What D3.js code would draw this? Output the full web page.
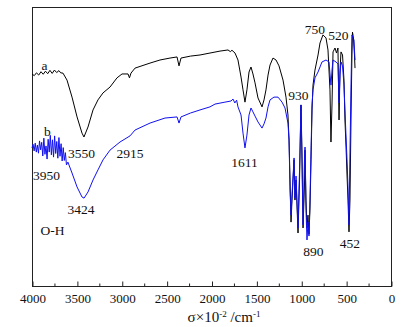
<!DOCTYPE html>
<html>
<head>
<meta charset="utf-8">
<script src="https://cdn.jsdelivr.net/npm/d3@7"></script>
<style>
  body { margin: 0; background: #fff; }
  svg text { font-family: "Liberation Serif", "Times New Roman", serif; fill: #111; }
  .axis path, .axis line { stroke: #222; }
</style>
</head>
<body>
<div id="chart"></div>
<script>
// Spectrum a (black): wavenumber (cm-1) and transmittance (a.u.)
const waveA = [4000, 3975, 3950, 3925, 3900, 3875, 3850, 3825, 3800, 3775, 3750, 3725, 3700, 3680, 3655,
  3610, 3554, 3498, 3443, 3421, 3376, 3320, 3265, 3209, 3131, 3053, 2997, 2930, 2914, 2897, 2852,
  2685, 2574, 2462, 2384, 2362, 2340, 2234, 2128, 2017, 1905, 1816, 1790, 1772, 1738, 1705, 1671,
  1649, 1627, 1605, 1582, 1560, 1538, 1515, 1482, 1437, 1415, 1393, 1370, 1348, 1315, 1281, 1248,
  1203, 1170, 1148, 1136, 1125, 1114, 1103, 1080, 1070, 1058, 1036, 1019, 1003, 992, 980, 964, 958,
  947, 936, 925, 914, 903, 891, 880, 869, 847, 813, 791, 758, 724, 702, 680, 669, 657, 646, 624, 607,
  591, 579, 568, 557, 540, 524, 513, 501, 490, 479, 468, 457, 446, 435, 429, 418, 407, 401];
const transA = [76.0, 75.4, 76.4, 75.6, 76.8, 75.9, 77.0, 76.1, 77.3, 76.2, 77.4, 76.5, 77.2, 76.4, 76.3,
  73.8, 67.7, 60.6, 54.8, 53.4, 57.0, 63.1, 66.7, 69.2, 71.3, 74.6, 76.0, 76.0, 74.6, 76.3, 78.1,
  79.9, 81.0, 81.7, 82.1, 78.9, 81.7, 82.4, 82.8, 83.5, 84.2, 84.6, 84.0, 84.5, 83.5, 81.0, 74.9,
  70.3, 65.9, 70.3, 76.7, 78.5, 76.0, 72.8, 67.4, 64.2, 66.7, 70.3, 75.6, 79.2, 81.7, 81.0, 78.9,
  73.8, 67.7, 61.3, 52.3, 38.0, 22.9, 30.8, 45.2, 30.8, 38.0, 19.0, 38.0, 64.9, 48.7, 20.8, 36.2, 48.7,
  30.8, 20.8, 25.4, 18.6, 27.2, 45.2, 63.1, 72.0, 77.4, 82.8, 87.1, 90.0, 88.9, 84.6, 70.3, 51.6, 65.6, 83.9, 85.3, 83.5,
  85.3, 59.5, 77.4, 83.9, 82.8, 73.8, 59.5, 49.8, 39.8, 30.8, 19.4, 30.8, 59.5, 83.5, 91.0, 88.9, 82.8, 78.1];

// Spectrum b (blue)
const waveB = [4000, 3988, 3976, 3964, 3952, 3940, 3928, 3916, 3904, 3892, 3880, 3868, 3856, 3844, 3832,
  3820, 3808, 3796, 3784, 3772, 3760, 3748, 3736, 3724, 3712, 3700, 3688, 3676, 3664, 3652, 3640, 3628,
  3616, 3600, 3554, 3498, 3443, 3420, 3376, 3320, 3265, 3209, 3131, 3020, 2908, 2852, 2685, 2518,
  2384, 2362, 2340, 2234, 2128, 2017, 1961, 1850, 1783, 1760, 1740, 1720, 1705, 1671, 1649, 1627,
  1605, 1582, 1560, 1538, 1515, 1482, 1437, 1415, 1393, 1370, 1348, 1304, 1259, 1214, 1181, 1148,
  1136, 1125, 1114, 1103, 1080, 1070, 1058, 1036, 1019, 1003, 992, 980, 964, 958, 947, 936, 925, 914,
  903, 891, 880, 869, 847, 813, 769, 724, 691, 669, 657, 646, 613, 591, 579, 568, 557, 540, 524, 513,
  501, 490, 479, 468, 457, 446, 435, 424, 413, 401];
const transB = [49.5, 50.8, 48.4, 51.2, 48.0, 50.5, 47.6, 52.0, 48.8, 51.5, 46.6, 53.0, 47.2, 50.2, 45.5,
  52.6, 48.0, 54.0, 47.0, 52.4, 46.2, 53.8, 47.5, 51.8, 45.8, 53.2, 46.5, 51.0, 44.8, 49.6, 45.0, 47.8,
  43.4, 44.4, 40.5, 35.5, 31.9, 31.5, 33.7, 38.0, 41.6, 45.2, 48.7, 51.6, 53.8, 55.9, 58.4, 60.2,
  60.6, 58.4, 60.6, 62.0, 63.1, 64.2, 65.2, 65.9, 66.3, 67.0, 65.6, 66.6, 64.2, 61.3, 54.8, 49.5,
  54.1, 61.3, 63.8, 62.4, 60.9, 58.8, 56.6, 58.1, 60.2, 64.2, 66.7, 67.7, 67.7, 65.9, 63.8, 58.4,
  52.3, 34.4, 25.4, 32.6, 45.9, 31.5, 39.4, 20.8, 41.6, 64.9, 45.2, 21.9, 45.2, 49.8, 27.2, 16.5, 22.9, 17.9,
  30.8, 48.7, 64.9, 70.3, 74.6, 76.7, 80.3, 81.0, 80.3, 72.0, 77.4, 81.0, 80.3, 79.6, 65.6, 76.0, 80.3, 78.9, 72.0, 63.1,
  53.4, 45.2, 35.5, 21.9, 47.7, 71.3, 90.0, 88.9, 88.2, 81.0];

const xTicks = [4000, 3500, 3000, 2500, 2000, 1500, 1000, 500, 0];
const minorTicks = [3750, 3250, 2750, 2250, 1750, 1250, 750, 250];

// Peak annotations: label, wavenumber and transmittance of the label centre
const labelText = ['a', 'b', '3550', '2915', '3950', '3424', 'O-H', '1611', '930', '750', '520', '890', '452'];
const labelWave = [3860, 3830, 3448, 2908, 3838, 3454, 3772, 1632, 1031, 847, 585, 864, 457];
const labelTrans = [79.2, 55.6, 47.7, 47.7, 39.8, 27.6, 20.1, 44.4, 68.5, 92.1, 90.0, 12.5, 15.4];

const width = 415, height = 327;
const margin = {top: 7, right: 24, bottom: 41, left: 32};
const innerW = width - margin.left - margin.right;
const innerH = height - margin.top - margin.bottom;

const svg = d3.select('#chart').append('svg')
    .attr('width', width)
    .attr('height', height);

const x = d3.scaleLinear().domain([4000, 0]).range([margin.left, margin.left + innerW]);
const y = d3.scaleLinear().domain([0, 100]).range([margin.top + innerH, margin.top]);

// Frame
svg.append('rect')
    .attr('x', margin.left + 0.5)
    .attr('y', margin.top + 0.5)
    .attr('width', innerW)
    .attr('height', innerH)
    .attr('fill', 'none')
    .attr('stroke', '#222')
    .attr('stroke-width', 1);

// Bottom axis, ticks point inward
const xAxis = d3.axisBottom(x)
    .tickValues(xTicks)
    .tickSizeInner(-5)
    .tickSizeOuter(0)
    .tickPadding(10)
    .tickFormat(d3.format('d'));

const xAxisG = svg.append('g')
    .attr('class', 'axis')
    .attr('transform', `translate(0.5,${margin.top + innerH + 0.5})`)
    .call(xAxis);
xAxisG.select('.domain').remove();
xAxisG.selectAll('text').attr('font-size', 13).attr('dy', '0.5em');

xAxisG.selectAll('.minor')
    .data(minorTicks)
  .join('line')
    .attr('class', 'minor')
    .attr('x1', d => x(d))
    .attr('x2', d => x(d))
    .attr('y1', 0)
    .attr('y2', -3)
    .attr('stroke', '#222');

// Axis title
const title = svg.append('text')
    .attr('x', 224)
    .attr('y', 322)
    .attr('text-anchor', 'middle')
    .attr('font-size', 15);
title.append('tspan').text('σ×10');
title.append('tspan').attr('dy', -5).attr('font-size', 9).text('-2');
title.append('tspan').attr('dy', 5).text(' /cm');
title.append('tspan').attr('dy', -5).attr('font-size', 9).text('-1');

// Spectra
const line = d3.line()
    .x(d => x(d[0]))
    .y(d => y(d[1]));

const specA = d3.zip(waveA, transA);
const specB = d3.zip(waveB, transB);

svg.append('path')
    .datum(specA)
    .attr('fill', 'none')
    .attr('stroke', '#000')
    .attr('stroke-width', 1)
    .attr('d', line);

svg.append('path')
    .datum(specB)
    .attr('fill', 'none')
    .attr('stroke', '#1010f0')
    .attr('stroke-width', 1)
    .attr('d', line);

// Annotations
svg.append('g').selectAll('text')
    .data(labelText)
  .join('text')
    .attr('x', (d, i) => x(labelWave[i]))
    .attr('y', (d, i) => y(labelTrans[i]))
    .attr('text-anchor', 'middle')
    .attr('dy', '0.35em')
    .attr('font-size', 13.5)
    .text(d => d);
</script>
</body>
</html>
